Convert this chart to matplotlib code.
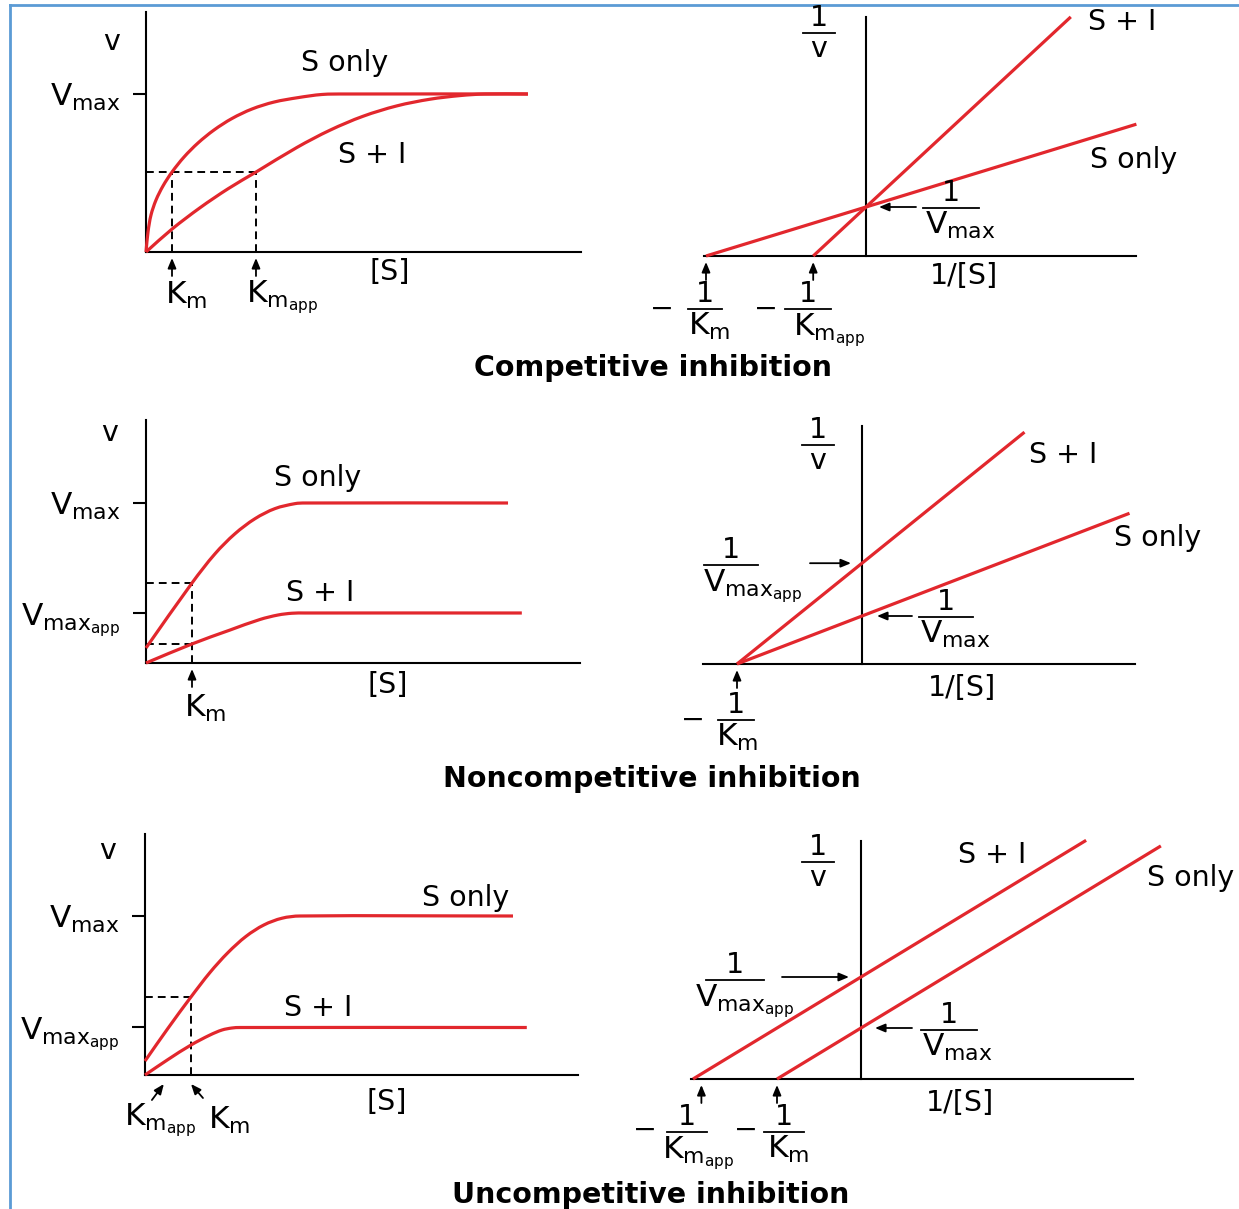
import matplotlib
matplotlib.use('Agg')
import matplotlib.pyplot as plt
from matplotlib.lines import Line2D
from matplotlib.path import Path
from matplotlib.patches import PathPatch

W, H, DPI = 1239, 1209, 100
plt.rcParams['font.family'] = ['DejaVu Sans']
plt.rcParams['mathtext.fontset'] = 'dejavusans'

RED = '#e2272d'
BLUE = '#5b9bd5'

# ---------------- data ----------------
# Competitive inhibition - Michaelis-Menten (x in Km units, y in Vmax units)
comp_mm_s_x = [0, 0.077, 0.192, 0.385, 0.654, 1.0, 1.462, 2.0, 2.615, 3.308, 4.077,
               4.923, 5.846, 6.769, 7.654, 14.69]
comp_mm_s_y = [0, 0.127, 0.234, 0.329, 0.418, 0.506, 0.601, 0.690, 0.772, 0.845, 0.905,
               0.949, 0.977, 0.997, 1.0, 1.0]
comp_mm_i_x = [0, 1.0, 2.077, 3.154, 4.231, 5.808, 7.077, 8.346, 9.654, 10.923, 12.077,
               13.038, 14.69]
comp_mm_i_y = [0, 0.145, 0.280, 0.400, 0.506, 0.662, 0.771, 0.859, 0.925, 0.967, 0.990,
               1.0, 1.0]
comp_km, comp_kmapp, comp_half, comp_vmax = 1.0, 4.23, 0.506, 1.0
# Competitive - Lineweaver-Burk (x in 1/Km units, y in 1/Vmax units)
comp_lb_s_x, comp_lb_s_y = [-1.0, 1.69], [0, 2.69]
comp_lb_i_x, comp_lb_i_y = [-0.33, 1.28], [0, 4.88]
comp_lb_inv_vmax = 1.0

# Noncompetitive - Michaelis-Menten
nonc_mm_s_x = [0, 1.0, 1.5, 1.935, 2.37, 2.804, 3.239, 3.457, 7.87]
nonc_mm_s_y = [0.094, 0.5, 0.6825, 0.808, 0.902, 0.965, 0.996, 1.0, 1.0]
nonc_mm_i_x = [0, 1.0, 1.826, 2.478, 2.870, 3.174, 3.457, 8.17]
nonc_mm_i_y = [0, 0.119, 0.206, 0.272, 0.300, 0.311, 0.3125, 0.3125]
nonc_km, nonc_v_km, nonc_vi_km = 1.0, 0.5, 0.119
nonc_vmax, nonc_vmaxapp = 1.0, 0.3125
# Noncompetitive - Lineweaver-Burk
nonc_lb_s_x, nonc_lb_s_y = [-1.0, 2.14], [0, 3.14]
nonc_lb_i_x, nonc_lb_i_y = [-1.0, 1.30], [0, 4.83]
nonc_lb_inv_vmax, nonc_lb_inv_vmaxapp = 1.0, 2.10

# Uncompetitive - Michaelis-Menten
unc_mm_s_x = [0, 0.5, 1.0, 1.413, 1.804, 2.196, 2.587, 2.978, 3.37, 8.0]
unc_mm_s_y = [0.088, 0.294, 0.491, 0.645, 0.770, 0.872, 0.944, 0.986, 1.0, 1.0]
unc_mm_i_x = [0, 0.5, 1.0, 1.413, 1.674, 1.891, 2.065, 8.3]
unc_mm_i_y = [0, 0.0975, 0.1887, 0.2516, 0.283, 0.2956, 0.2987, 0.2987]
unc_km, unc_kmapp, unc_half = 1.0, 0.41, 0.491
unc_vmax, unc_vmaxapp = 1.0, 0.30
# Uncompetitive - Lineweaver-Burk
unc_lb_s_x, unc_lb_s_y = [-1.0, 3.57], [0, 4.57]
unc_lb_i_x, unc_lb_i_y = [-2.0, 2.68], [0, 4.68]
unc_lb_inv_vmax, unc_lb_inv_vmaxapp = 1.0, 2.0

# ---------------- figure ----------------
fig = plt.figure(figsize=(W / DPI, H / DPI), dpi=DPI)
fig.patch.set_facecolor('white')

VMAX = r'$\mathrm{V_{max}}$'
VMAXAPP = r'$\mathrm{V_{max_{app}}}$'
KM = r'$\mathrm{K_m}$'
KMAPP = r'$\mathrm{K_{m_{app}}}$'
FS = 20.5     # plain labels
MS = 22.5     # labels with subscripts


def panel(xl, yt, xr, yb, ox, xu, yu, lb=False):
    ax = fig.add_axes([xl / W, 1 - yb / H, (xr - xl) / W, (yb - yt) / H])
    ax.set_xlim((xl - ox) / xu, (xr - ox) / xu)
    ax.set_ylim(0, (yb - yt) / yu)
    ax.patch.set_alpha(0)
    ax._px_scale = (xu, yu)
    for s in ('top', 'right'):
        ax.spines[s].set_visible(False)
    for s in ('left', 'bottom'):
        ax.spines[s].set_linewidth(1.5)
    if lb:
        ax.spines['left'].set_position(('data', 0))
    ax.set_xticks([])
    ax.set_yticks([])
    ax.tick_params(axis='y', direction='out', length=9.5, width=1.5, pad=9, labelsize=MS)
    return ax


def curve(ax, x, y):
    """Smooth curve through the read points (chord-length Hermite -> Bezier)."""
    xu, yu = ax._px_scale
    n = len(x)
    if n == 2:
        ax.plot(x, y, color=RED, lw=2.3, clip_on=False, solid_capstyle='butt', zorder=3)
        return
    t = [0.0]
    for i in range(1, n):
        t.append(t[-1] + ((x[i] - x[i - 1]) ** 2 * xu ** 2 + (y[i] - y[i - 1]) ** 2 * yu ** 2) ** 0.5)
    m = []
    for i in range(n):
        a, b = max(i - 1, 0), min(i + 1, n - 1)
        dt = t[b] - t[a]
        m.append(((x[b] - x[a]) / dt, (y[b] - y[a]) / dt))
    verts, codes = [(x[0], y[0])], [Path.MOVETO]
    for i in range(n - 1):
        h = (t[i + 1] - t[i]) / 3
        verts += [(x[i] + m[i][0] * h, y[i] + m[i][1] * h),
                  (x[i + 1] - m[i + 1][0] * h, y[i + 1] - m[i + 1][1] * h),
                  (x[i + 1], y[i + 1])]
        codes += [Path.CURVE4] * 3
    ax.add_patch(PathPatch(Path(verts, codes), fill=False, edgecolor=RED, lw=2.3,
                           clip_on=False, zorder=3, capstyle='butt'))


def dashed(ax, x, y):
    ax.plot(x, y, color='black', lw=1.4, ls=(0, (4, 2.6)), clip_on=False, zorder=2)


def t(x, y, s, size=FS, ha='center', va='center', **kw):
    fig.text(x / W, 1 - y / H, s, fontsize=size, ha=ha, va=va, **kw)


def frac(cx, ly, hw, num, den, den_x=None, size=FS, dsize=None):
    dsize = size if dsize is None else dsize
    fig.add_artist(Line2D([(cx - hw) / W, (cx + hw) / W], [1 - ly / H] * 2,
                          color='black', lw=1.3, transform=fig.transFigure))
    t(cx, ly - 1, num, size=size, va='bottom')
    if den_x is None:
        t(cx, ly + 2, den, size=dsize, va='top')
    else:
        t(den_x, ly + 2, den, size=dsize, ha='left', va='top')


ARW = dict(arrowstyle='-|>,head_length=0.6,head_width=0.25', color='black',
           lw=1.3, mutation_scale=10, shrinkA=0, shrinkB=0)


def up_arrow(ax, x, y0=-24, y1=-6, x0=None):
    ax.annotate('', xy=(x, y1), xycoords=('data', 'axes pixels'),
                xytext=(x if x0 is None else x0, y0), textcoords=('data', 'axes pixels'),
                arrowprops=ARW, annotation_clip=False)


def side_arrow(ax, yv, dx, gap):
    ax.annotate('', xy=(0, yv), xycoords='data', xytext=(dx, 0), textcoords='offset pixels',
                arrowprops=dict(ARW, shrinkB=gap * 0.72), annotation_clip=False)


# ===== Competitive: Michaelis-Menten =====
ax1 = panel(146, 12, 581, 252, 146, 26, 158)
curve(ax1, comp_mm_s_x, comp_mm_s_y)
curve(ax1, comp_mm_i_x, comp_mm_i_y)
dashed(ax1, [0, comp_kmapp], [comp_half, comp_half])
dashed(ax1, [comp_km, comp_km], [0, comp_half])
dashed(ax1, [comp_kmapp, comp_kmapp], [0, comp_half])
ax1.set_yticks([comp_vmax])
ax1.set_yticklabels([VMAX])
up_arrow(ax1, comp_km)
up_arrow(ax1, comp_kmapp)
t(112, 42, 'v')
t(345, 63, 'S only')
t(372, 155, 'S + I')
t(390, 272, '[S]')
t(186, 295, KM, size=MS)
t(246, 297, KMAPP, size=MS, ha='left')

# ===== Competitive: Lineweaver-Burk =====
ax2 = panel(704, 17, 1136, 256, 866, 160, 49, lb=True)
curve(ax2, comp_lb_s_x, comp_lb_s_y)
curve(ax2, comp_lb_i_x, comp_lb_i_y)
side_arrow(ax2, comp_lb_inv_vmax, 50, 13)
up_arrow(ax2, comp_lb_s_x[0])
up_arrow(ax2, comp_lb_i_x[0])
frac(819, 33, 16, '1', 'v')
frac(951, 208, 28, '1', VMAX, den_x=925, dsize=MS)
t(1122, 22, 'S + I')
t(1134, 160, 'S only')
t(964, 276, '1/[S]')
t(662, 309, '−')
frac(705, 309, 17, '1', KM, den_x=688, dsize=MS)
t(766, 309, '−')
frac(808, 309, 23, '1', KMAPP, den_x=793, dsize=MS)
t(653, 368, 'Competitive inhibition', size=20.5, fontweight='bold')

# ===== Noncompetitive: Michaelis-Menten =====
ax3 = panel(146, 420, 580, 663, 146, 46, 160)
curve(ax3, nonc_mm_s_x, nonc_mm_s_y)
curve(ax3, nonc_mm_i_x, nonc_mm_i_y)
dashed(ax3, [0, nonc_km], [nonc_v_km, nonc_v_km])
dashed(ax3, [0, nonc_km], [nonc_vi_km, nonc_vi_km])
dashed(ax3, [nonc_km, nonc_km], [0, nonc_v_km])
ax3.set_yticks([nonc_vmax, nonc_vmaxapp])
ax3.set_yticklabels([VMAX, VMAXAPP])
up_arrow(ax3, nonc_km)
t(110, 433, 'v')
t(318, 478, 'S only')
t(320, 593, 'S + I')
t(388, 685, '[S]')
t(205, 708, KM, size=MS)

# ===== Noncompetitive: Lineweaver-Burk =====
ax4 = panel(703, 426, 1135, 664, 862, 125, 48, lb=True)
curve(ax4, nonc_lb_s_x, nonc_lb_s_y)
curve(ax4, nonc_lb_i_x, nonc_lb_i_y)
side_arrow(ax4, nonc_lb_inv_vmaxapp, -52, 11)
side_arrow(ax4, nonc_lb_inv_vmax, 50, 15)
up_arrow(ax4, nonc_lb_s_x[0])
frac(818, 445, 16, '1', 'v')
frac(731, 565, 27, '1', VMAXAPP, den_x=703, dsize=MS)
frac(946, 617, 27, '1', VMAX, den_x=920, dsize=MS)
t(1063, 455, 'S + I')
t(1158, 538, 'S only')
t(962, 688, '1/[S]')
t(693, 720, '−')
frac(736, 720, 18, '1', KM, den_x=716, dsize=MS)
t(652, 779, 'Noncompetitive inhibition', size=20.5, fontweight='bold')

# ===== Uncompetitive: Michaelis-Menten =====
ax5 = panel(145, 834, 578, 1075, 145, 46, 159)
curve(ax5, unc_mm_s_x, unc_mm_s_y)
curve(ax5, unc_mm_i_x, unc_mm_i_y)
dashed(ax5, [0, unc_km], [unc_half, unc_half])
dashed(ax5, [unc_km, unc_km], [0, unc_half])
ax5.set_yticks([unc_vmax, unc_vmaxapp])
ax5.set_yticklabels([VMAX, VMAXAPP])
up_arrow(ax5, unc_kmapp, y0=-25, y1=-9, x0=unc_kmapp - 0.26)
up_arrow(ax5, unc_km, y0=-23, y1=-9, x0=unc_km + 0.26)
t(108, 851, 'v')
t(466, 898, 'S only')
t(318, 1008, 'S + I')
t(387, 1102, '[S]')
t(124, 1120, KMAPP, size=MS, ha='left')
t(229, 1120, KM, size=MS)

# ===== Uncompetitive: Lineweaver-Burk =====
ax6 = panel(691, 841, 1133, 1079, 861, 84, 51, lb=True)
curve(ax6, unc_lb_s_x, unc_lb_s_y)
curve(ax6, unc_lb_i_x, unc_lb_i_y)
side_arrow(ax6, unc_lb_inv_vmaxapp, -79, 12)
side_arrow(ax6, unc_lb_inv_vmax, 51, 14)
up_arrow(ax6, unc_lb_i_x[0] + 0.1)
up_arrow(ax6, unc_lb_s_x[0])
frac(818, 862, 16, '1', 'v')
frac(735, 980, 29, '1', VMAXAPP, den_x=695, dsize=MS)
frac(949, 1030, 28, '1', VMAX, den_x=922, dsize=MS)
t(992, 855, 'S + I')
t(1191, 878, 'S only')
t(960, 1103, '1/[S]')
t(645, 1130, '−')
frac(687, 1132, 20, '1', KMAPP, den_x=662, dsize=MS)
t(746, 1130, '−')
frac(784, 1132, 20, '1', KM, den_x=767, dsize=MS)
t(651, 1195, 'Uncompetitive inhibition', size=20.5, fontweight='bold')

# frame lines (blue) at top and left
fig.add_artist(Line2D([10 / W, 1], [1 - 5 / H] * 2, color=BLUE, lw=2, transform=fig.transFigure))
fig.add_artist(Line2D([10 / W, 10 / W], [0, 1 - 5 / H], color=BLUE, lw=2, transform=fig.transFigure))

fig.savefig('out.png', dpi=DPI, facecolor='white')
